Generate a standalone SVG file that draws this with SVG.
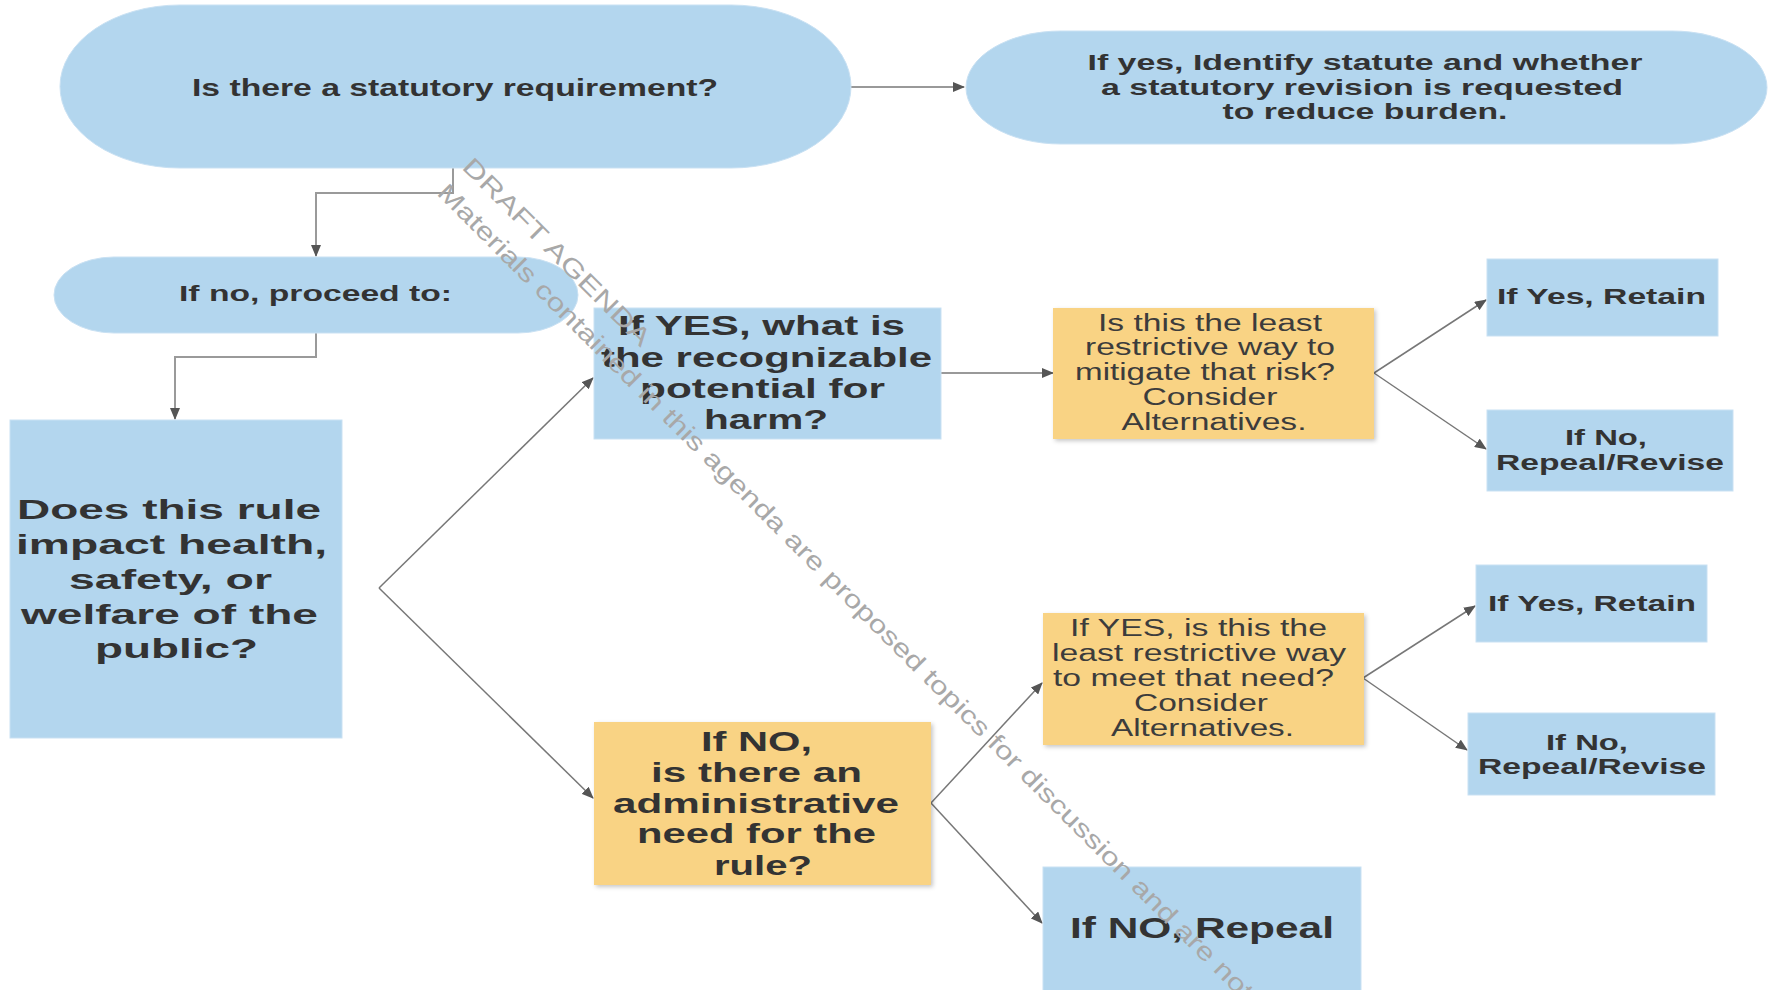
<svg xmlns="http://www.w3.org/2000/svg" width="1769" height="990" viewBox="0 0 1769 990">
<defs>
<style>
.blue{fill:#b3d6ee;stroke:#c9e1f3;stroke-width:1}
.yel{fill:#f9d384;filter:url(#sh)}
.tb{font-family:"Liberation Sans",Arial,sans-serif;font-weight:bold;fill:#333;text-anchor:middle}
.tn{font-family:"Liberation Sans",Arial,sans-serif;font-weight:normal;fill:#3c3c3c;text-anchor:middle}
.c1{fill:none;stroke:#9a9a9a;stroke-width:2}
.c2{fill:none;stroke:#777;stroke-width:1.5}
.wm{font-family:"Liberation Sans",Arial,sans-serif;font-size:25px;fill:#a8a8a8}
</style>
<filter id="sh" x="-5%" y="-5%" width="115%" height="115%">
<feDropShadow dx="2" dy="2" stdDeviation="2" flood-color="#000" flood-opacity="0.22"/>
</filter>
<marker id="ah" viewBox="0 0 12 10" refX="11" refY="5" markerWidth="12" markerHeight="10" markerUnits="userSpaceOnUse" orient="auto">
<path d="M0,0 L12,5 L0,10 Z" fill="#555"/>
</marker>
</defs>

<g id="connectors">
<path class="c2" d="M851,87 H964" marker-end="url(#ah)"/>
<path class="c1" d="M453,168 V193 H316 V256" marker-end="url(#ah)"/>
<path class="c1" d="M316,333 V357 H175 V419" marker-end="url(#ah)"/>
<path class="c2" d="M379,588 L593,378" marker-end="url(#ah)"/>
<path class="c2" d="M379,588 L593,798" marker-end="url(#ah)"/>
<path class="c2" d="M941,373 H1053" marker-end="url(#ah)"/>
<path class="c2" d="M1374,373 L1486,300" marker-end="url(#ah)"/>
<path class="c2" d="M1374,373 L1486,449" marker-end="url(#ah)"/>
<path class="c2" d="M931,803 L1042,683" marker-end="url(#ah)"/>
<path class="c2" d="M931,803 L1042,923" marker-end="url(#ah)"/>
<path class="c2" d="M1363,678 L1475,606" marker-end="url(#ah)"/>
<path class="c2" d="M1363,678 L1467,750" marker-end="url(#ah)"/>
</g>

<g id="n-statutory">
<rect class="blue" x="60" y="5" width="791" height="163" rx="120" ry="81.5"/>
<text class="tb" font-size="24" x="455" y="96" textLength="526" lengthAdjust="spacingAndGlyphs">Is there a statutory requirement?</text>
</g>

<g id="n-ifyes-statute">
<rect class="blue" x="966" y="31" width="801" height="113" rx="95" ry="56.5"/>
<text class="tb" font-size="22" x="1365" y="70" textLength="555" lengthAdjust="spacingAndGlyphs">If yes, Identify statute and whether</text>
<text class="tb" font-size="22" x="1362" y="95" textLength="522" lengthAdjust="spacingAndGlyphs">a statutory revision is requested</text>
<text class="tb" font-size="22" x="1365" y="119" textLength="285" lengthAdjust="spacingAndGlyphs">to reduce burden.</text>
</g>

<g id="n-ifno-proceed">
<rect class="blue" x="54" y="257" width="524" height="76" rx="60" ry="38"/>
<text class="tb" font-size="22.5" x="315.5" y="301" textLength="273" lengthAdjust="spacingAndGlyphs">If no, proceed to:</text>
</g>

<g id="n-impact">
<rect class="blue" x="10" y="420" width="332" height="318"/>
<text class="tb" font-size="28" x="169" y="519" textLength="304" lengthAdjust="spacingAndGlyphs">Does this rule</text>
<text class="tb" font-size="28" x="171.5" y="554" textLength="311" lengthAdjust="spacingAndGlyphs">impact health,</text>
<text class="tb" font-size="28" x="170.5" y="589" textLength="203" lengthAdjust="spacingAndGlyphs">safety, or</text>
<text class="tb" font-size="28" x="169.5" y="624" textLength="297" lengthAdjust="spacingAndGlyphs">welfare of the</text>
<text class="tb" font-size="28" x="176.5" y="658" textLength="163" lengthAdjust="spacingAndGlyphs">public?</text>
</g>

<g id="n-harm">
<rect class="blue" x="594" y="308" width="347" height="131"/>
<text class="tb" font-size="27" x="761.5" y="335" textLength="287" lengthAdjust="spacingAndGlyphs">If YES, what is</text>
<text class="tb" font-size="27" x="766.5" y="367" textLength="331" lengthAdjust="spacingAndGlyphs">the recognizable</text>
<text class="tb" font-size="27" x="762.5" y="398" textLength="245" lengthAdjust="spacingAndGlyphs">potential for</text>
<text class="tb" font-size="27" x="766" y="429" textLength="124" lengthAdjust="spacingAndGlyphs">harm?</text>
</g>

<g id="n-least-risk">
<rect class="yel" x="1053" y="308" width="321" height="131"/>
<text class="tn" font-size="23" x="1210" y="331" textLength="224" lengthAdjust="spacingAndGlyphs">Is this the least</text>
<text class="tn" font-size="23" x="1210" y="355" textLength="250" lengthAdjust="spacingAndGlyphs">restrictive way to</text>
<text class="tn" font-size="23" x="1205" y="380" textLength="260" lengthAdjust="spacingAndGlyphs">mitigate that risk?</text>
<text class="tn" font-size="23" x="1210" y="405" textLength="135" lengthAdjust="spacingAndGlyphs">Consider</text>
<text class="tn" font-size="23" x="1214" y="430" textLength="185" lengthAdjust="spacingAndGlyphs">Alternatives.</text>
</g>

<g id="n-retain-1">
<rect class="blue" x="1487" y="259" width="231" height="77"/>
<text class="tb" font-size="22.5" x="1601.5" y="304" textLength="209" lengthAdjust="spacingAndGlyphs">If Yes, Retain</text>
</g>

<g id="n-revise-1">
<rect class="blue" x="1487" y="410" width="246" height="81"/>
<text class="tb" font-size="22.5" x="1606" y="445" textLength="82" lengthAdjust="spacingAndGlyphs">If No,</text>
<text class="tb" font-size="22.5" x="1610" y="470" textLength="228" lengthAdjust="spacingAndGlyphs">Repeal/Revise</text>
</g>

<g id="n-admin">
<rect class="yel" x="594" y="722" width="337" height="163"/>
<text class="tb" font-size="27" x="756.5" y="751" textLength="111" lengthAdjust="spacingAndGlyphs">If NO,</text>
<text class="tb" font-size="27" x="756.5" y="782" textLength="211" lengthAdjust="spacingAndGlyphs">is there an</text>
<text class="tb" font-size="27" x="756" y="813" textLength="286" lengthAdjust="spacingAndGlyphs">administrative</text>
<text class="tb" font-size="27" x="756.5" y="843" textLength="239" lengthAdjust="spacingAndGlyphs">need for the</text>
<text class="tb" font-size="27" x="763" y="875" textLength="98" lengthAdjust="spacingAndGlyphs">rule?</text>
</g>

<g id="n-least-need">
<rect class="yel" x="1043" y="613" width="321" height="132"/>
<text class="tn" font-size="23" x="1198.5" y="636" textLength="257" lengthAdjust="spacingAndGlyphs">If YES, is this the</text>
<text class="tn" font-size="23" x="1199" y="661" textLength="294" lengthAdjust="spacingAndGlyphs">least restrictive way</text>
<text class="tn" font-size="23" x="1193.5" y="686" textLength="281" lengthAdjust="spacingAndGlyphs">to meet that need?</text>
<text class="tn" font-size="23" x="1201" y="711" textLength="134" lengthAdjust="spacingAndGlyphs">Consider</text>
<text class="tn" font-size="23" x="1202.5" y="736" textLength="183" lengthAdjust="spacingAndGlyphs">Alternatives.</text>
</g>

<g id="n-retain-2">
<rect class="blue" x="1476" y="565" width="231" height="77"/>
<text class="tb" font-size="22.5" x="1592" y="611" textLength="208" lengthAdjust="spacingAndGlyphs">If Yes, Retain</text>
</g>

<g id="n-revise-2">
<rect class="blue" x="1468" y="713" width="247" height="82"/>
<text class="tb" font-size="22.5" x="1587" y="750" textLength="82" lengthAdjust="spacingAndGlyphs">If No,</text>
<text class="tb" font-size="22.5" x="1592" y="774" textLength="228" lengthAdjust="spacingAndGlyphs">Repeal/Revise</text>
</g>

<g id="n-repeal">
<rect class="blue" x="1043" y="867" width="318" height="130"/>
<text class="tb" font-size="30" x="1202" y="938" textLength="264" lengthAdjust="spacingAndGlyphs">If NO, Repeal</text>
</g>

<g id="watermark">
<text class="wm" transform="translate(461,168) rotate(45)" x="0" y="0" textLength="254" lengthAdjust="spacingAndGlyphs">DRAFT AGENDA</text>
<text class="wm" transform="translate(436,194) rotate(45)" x="0" y="0" textLength="1142" lengthAdjust="spacingAndGlyphs">Materials contained in this agenda are proposed topics for discussion and are not</text>
</g>
</svg>
